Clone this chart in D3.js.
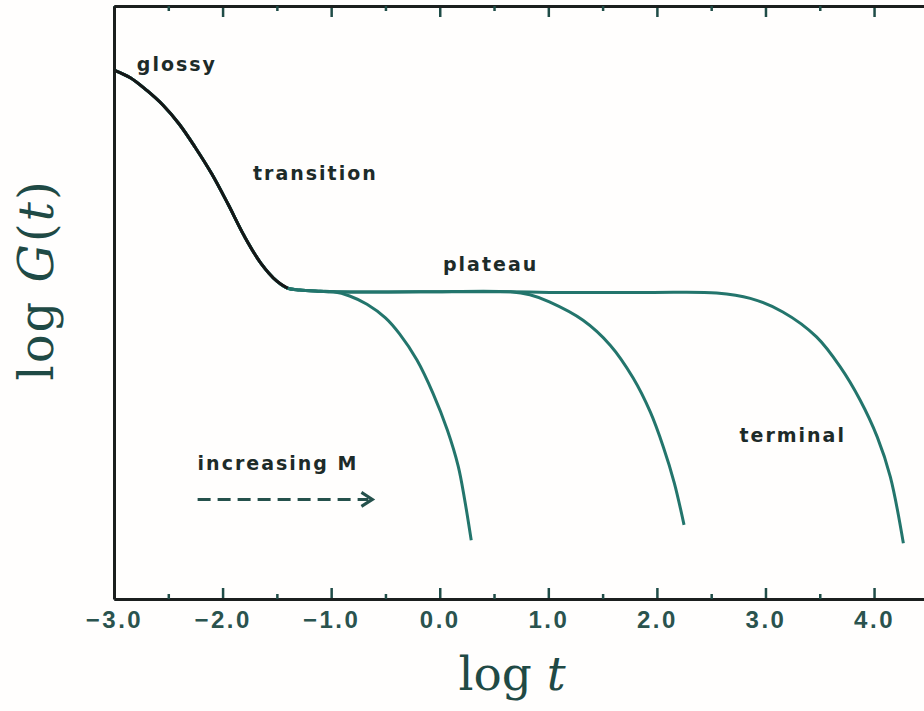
<!DOCTYPE html>
<html>
<head>
<meta charset="utf-8">
<script src="https://cdn.jsdelivr.net/npm/d3@7"></script>
<style>
  body { margin: 0; background: #fffefd; }
  svg { display: block; }
</style>
</head>
<body>
<div id="chart"></div>
<script>
// log t ticks along the bottom and top
var majorTicks = [-3, -2, -1, 0, 1, 2, 3, 4];
var minorTicks = [-2.5, -1.5, -0.5, 0.5, 1.5, 2.5, 3.5];

// shared part of the curve (glassy + transition + start of plateau)
var sharedT = [-3.00, -2.85, -2.70, -2.55, -2.40, -2.25, -2.10, -1.95, -1.80, -1.65, -1.50, -1.40, -1.29, -1.10, -0.98];
var sharedG = [8.92, 8.79, 8.58, 8.33, 8.01, 7.61, 7.17, 6.66, 6.12, 5.67, 5.36, 5.24, 5.21, 5.19, 5.18];
var glassyEnd = 12; // first points drawn dark

// terminal tails, one per molecular weight
var tail1T = [-0.83, -0.67, -0.50, -0.37, -0.21, -0.06, 0.07, 0.17, 0.23, 0.29];
var tail1G = [5.11, 4.97, 4.74, 4.47, 4.03, 3.46, 2.85, 2.24, 1.67, 0.99];
var tail2T = [-0.18, 0.65, 0.83, 1.01, 1.32, 1.57, 1.78, 1.94, 2.06, 2.16, 2.25];
var tail2G = [5.18, 5.18, 5.13, 5.01, 4.70, 4.28, 3.73, 3.15, 2.56, 1.96, 1.25];
var tail3T = [-0.18, 0.65, 1.01, 1.94, 2.55, 2.86, 3.16, 3.47, 3.69, 3.87, 4.03, 4.15, 4.27];
var tail3G = [5.18, 5.18, 5.17, 5.17, 5.16, 5.07, 4.84, 4.42, 3.91, 3.36, 2.73, 2.06, 0.94];

// region labels
var labelText = ["glossy", "transition", "plateau", "terminal", "increasing M"];
var labelT = [-2.79, -1.72, 0.03, 2.76, -2.23];
var labelG = [8.90, 7.07, 5.53, 2.64, 2.18];
var arrowT = [-2.23, -0.62];
var arrowG = 1.68;

var width = 924, height = 711;
var svg = d3.select("#chart").append("svg")
  .attr("width", width)
  .attr("height", height);

var x = d3.scaleLinear().domain([-3, 4.46]).range([114, 924]);
var y = d3.scaleLinear().domain([0, 10]).range([599, 6]);

var teal = "#23756c";
var ink = "#1d2b29";

function pts(tArr, gArr) {
  return tArr.map(function(t, i) { return [t, gArr[i]]; });
}
var line = d3.line()
  .x(function(d) { return x(d[0]); })
  .y(function(d) { return y(d[1]); })
  .curve(d3.curveCatmullRom.alpha(0.5));

var shared = pts(sharedT, sharedG);
var curves = [
  shared.concat(pts(tail1T, tail1G)),
  shared.concat(pts(tail2T, tail2G)),
  shared.concat(pts(tail3T, tail3G))
];

// curves
svg.append("g").selectAll("path")
  .data(curves)
  .enter().append("path")
    .attr("d", line)
    .attr("fill", "none")
    .attr("stroke", teal)
    .attr("stroke-width", 3);

// glassy/transition part looks black in the print
svg.append("path")
  .datum(shared.slice(0, glassyEnd))
  .attr("d", line)
  .attr("fill", "none")
  .attr("stroke", "#161616")
  .attr("stroke-width", 3);

// axes
var fmt = function(d) { return d3.format(".1f")(d).replace("-", "\u2212"); };

var bottom = svg.append("g")
  .attr("transform", "translate(0," + y(0) + ")")
  .call(d3.axisBottom(x).tickValues(majorTicks).tickSizeInner(-11).tickSizeOuter(0)
    .tickPadding(12).tickFormat(fmt));
svg.append("g")
  .attr("transform", "translate(0," + y(0) + ")")
  .call(d3.axisBottom(x).tickValues(minorTicks).tickSizeInner(-5).tickSizeOuter(0).tickFormat(""));

svg.append("g")
  .attr("transform", "translate(0," + y(10) + ")")
  .call(d3.axisTop(x).tickValues(majorTicks).tickSizeInner(-11).tickSizeOuter(0).tickFormat(""));
svg.append("g")
  .attr("transform", "translate(0," + y(10) + ")")
  .call(d3.axisTop(x).tickValues(minorTicks).tickSizeInner(-5).tickSizeOuter(0).tickFormat(""));

svg.append("g")
  .attr("transform", "translate(" + x(-3) + ",0)")
  .call(d3.axisLeft(y).tickValues([]).tickSizeOuter(0));

svg.selectAll(".domain")
  .attr("stroke", "#1b1f1e")
  .attr("stroke-width", 3);
svg.selectAll(".tick line")
  .attr("stroke", "#1f4c47")
  .attr("stroke-width", 2.5);
bottom.selectAll(".tick text")
  .attr("font-family", "'Liberation Sans', Arial, sans-serif")
  .attr("font-weight", "bold")
  .attr("font-size", 24)
  .attr("letter-spacing", 2.5)
  .attr("fill", "#2a534e");

// region labels
svg.append("g").selectAll("text")
  .data(labelText)
  .enter().append("text")
    .attr("x", function(d, i) { return x(labelT[i]); })
    .attr("y", function(d, i) { return y(labelG[i]); })
    .attr("font-family", "'DejaVu Sans', sans-serif")
    .attr("font-weight", "bold")
    .attr("font-size", 19)
    .attr("letter-spacing", 2)
    .attr("fill", ink)
    .text(function(d) { return d; });

// dashed arrow under "increasing M"
svg.append("line")
  .attr("x1", x(arrowT[0]))
  .attr("x2", x(arrowT[1]) - 4)
  .attr("y1", y(arrowG))
  .attr("y2", y(arrowG))
  .attr("stroke", "#25514c")
  .attr("stroke-width", 3)
  .attr("stroke-dasharray", "13,7");
svg.append("path")
  .attr("d", "M" + (x(arrowT[1]) - 11) + "," + (y(arrowG) - 7) +
             "L" + x(arrowT[1]) + "," + y(arrowG) +
             "L" + (x(arrowT[1]) - 11) + "," + (y(arrowG) + 7))
  .attr("fill", "none")
  .attr("stroke", "#25514c")
  .attr("stroke-width", 3);

// axis titles
var xTitle = svg.append("text")
  .attr("x", 512)
  .attr("y", 690)
  .attr("text-anchor", "middle")
  .attr("font-family", "'DejaVu Serif', serif")
  .attr("font-size", 47)
  .attr("fill", "#1f4a45");
xTitle.append("tspan").text("log ");
xTitle.append("tspan").attr("font-style", "italic").text("t");

var yTitle = svg.append("text")
  .attr("transform", "translate(53,280) rotate(-90)")
  .attr("text-anchor", "middle")
  .attr("font-family", "'DejaVu Serif', serif")
  .attr("font-size", 48)
  .attr("letter-spacing", 2)
  .attr("fill", "#1f4a45");
yTitle.append("tspan").text("log ");
yTitle.append("tspan").attr("font-style", "italic").text("G");
yTitle.append("tspan").text("(");
yTitle.append("tspan").attr("font-style", "italic").text("t");
yTitle.append("tspan").text(")");
</script>
</body>
</html>
